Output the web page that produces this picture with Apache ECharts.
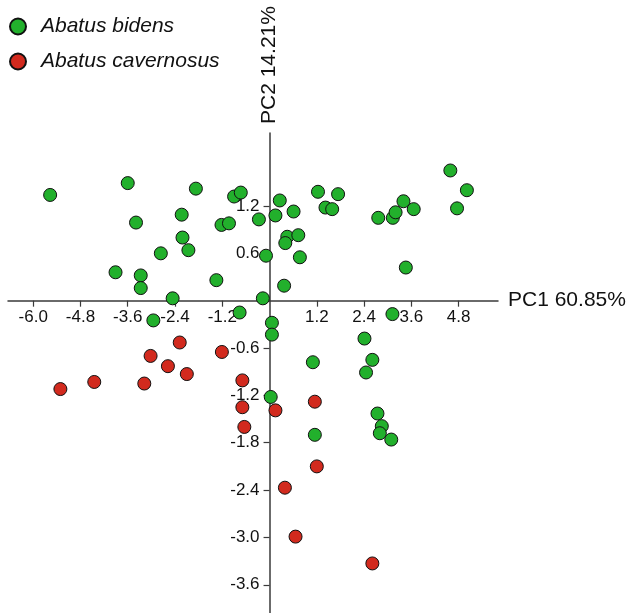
<!DOCTYPE html>
<html>
<head>
<meta charset="utf-8">
<script src="https://cdn.jsdelivr.net/npm/echarts@6/dist/echarts.min.js"></script>
<style>
html,body{margin:0;padding:0;background:#fff;}
#chart{width:628px;height:613px;}
</style>
</head>
<body>
<div id="chart"></div>
<script>
const bidensPC1 = [-5.57,-3.60,-1.87,-0.90,-0.73,1.23,0.26,-2.23,-3.39,-1.22,-1.03,-0.27,0.15,0.61,-2.21,-2.06,-2.76,-0.09,0.45,0.40,0.73,0.77,-3.91,-3.27,-3.27,-1.35,0.37,-2.46,-0.17,-2.95,-0.76,0.06,4.59,5.01,4.76,1.74,1.42,1.59,2.76,3.13,3.20,3.40,3.66,3.46,3.12,0.06,1.10,0.03,1.15,2.41,2.61,2.45,2.74,2.85,2.80,3.09];
const bidensPC2 = [1.34,1.49,1.42,1.32,1.37,1.38,1.27,1.09,0.99,0.96,0.98,1.03,1.08,1.13,0.80,0.64,0.60,0.57,0.81,0.73,0.83,0.55,0.36,0.32,0.16,0.26,0.19,0.03,0.03,-0.25,-0.15,-0.28,1.65,1.40,1.17,1.35,1.18,1.16,1.05,1.05,1.12,1.26,1.16,0.42,-0.17,-0.43,-0.78,-1.22,-1.70,-0.48,-0.75,-0.91,-1.43,-1.59,-1.68,-1.76];
const cavernosusPC1 = [-5.31,-4.45,-3.18,-3.02,-2.58,-2.28,-2.10,-1.21,-0.69,-0.69,-0.64,0.15,1.15,1.20,0.39,0.66,2.61];
const cavernosusPC2 = [-1.12,-1.03,-1.05,-0.70,-0.83,-0.53,-0.93,-0.65,-1.01,-1.35,-1.60,-1.39,-1.28,-2.10,-2.37,-2.99,-3.33];
const xTicks = [-6.0,-4.8,-3.6,-2.4,-1.2,1.2,2.4,3.6,4.8];
const yTicks = [1.2,0.6,-0.6,-1.2,-1.8,-2.4,-3.0,-3.6];
const seriesNames = ['Abatus bidens','Abatus cavernosus'];
const xName = 'PC1 60.85%';
const yName = 'PC2 14.21%';

const pairs = (a,b) => a.map((v,i)=>[v,b[i]]);
const fmt = v => Number(v).toFixed(1);
const FONT = 'Arial, "Liberation Sans", sans-serif';

const W = 628, H = 613;
const G = {left:8, right:130, top:133, bottom:0};
const xMin = -6.64, xMax = 5.80, yMin = -3.958, yMax = 2.125;
const gw = W - G.left - G.right, gh = H - G.top - G.bottom;
// place the axes through the origin (axis layout, not mark coordinates)
const xAxisOffset = -(gh * (0 - yMin) / (yMax - yMin));
const yAxisOffset = -(gw * (0 - xMin) / (xMax - xMin));

const chart = echarts.init(document.getElementById('chart'));
const axisCommon = {
  type:'value',
  splitLine:{show:false},
  axisLine:{onZero:false, lineStyle:{color:'#3a3a3a', width:1.5}},
  nameTextStyle:{fontSize:21, color:'#111', fontFamily:FONT}
};
const tickStyle = {length:6, lineStyle:{color:'#3a3a3a', width:1.2}};
chart.setOption({
  animation:false,
  backgroundColor:'#fff',
  legend:{
    orient:'vertical', left:9, top:16, padding:0,
    itemWidth:16, itemHeight:16, itemGap:14,
    icon:'circle',
    textStyle:{fontSize:21, fontStyle:'italic', color:'#111', fontFamily:FONT, padding:[0,0,0,10]},
    data:seriesNames
  },
  grid:Object.assign({containLabel:false, outerBoundsMode:'none'}, G),
  xAxis:Object.assign({}, axisCommon, {
    min:xMin, max:xMax, position:'bottom', offset:xAxisOffset,
    name:xName, nameLocation:'end', nameGap:10,
    axisTick:Object.assign({customValues:xTicks}, tickStyle),
    axisLabel:{show:true, customValues:xTicks, formatter:fmt, fontSize:17, color:'#111', fontFamily:FONT, margin:8, hideOverlap:false}
  }),
  yAxis:Object.assign({}, axisCommon, {
    min:yMin, max:yMax, position:'left', offset:yAxisOffset,
    name:yName, nameLocation:'end', nameGap:9, nameRotate:90,
    axisTick:Object.assign({customValues:yTicks}, tickStyle),
    axisLabel:{show:true, customValues:yTicks, formatter:fmt, fontSize:17, color:'#111', fontFamily:FONT, margin:10, hideOverlap:false}
  }),
  series:[
    {name:seriesNames[0], type:'scatter', data:pairs(bidensPC1,bidensPC2), symbolSize:13,
     itemStyle:{color:'#22b02c', borderColor:'#111', borderWidth:1, opacity:1}},
    {name:seriesNames[1], type:'scatter', data:pairs(cavernosusPC1,cavernosusPC2), symbolSize:13,
     itemStyle:{color:'#d22a1e', borderColor:'#111', borderWidth:1, opacity:1}}
  ]
});
</script>
</body>
</html>
